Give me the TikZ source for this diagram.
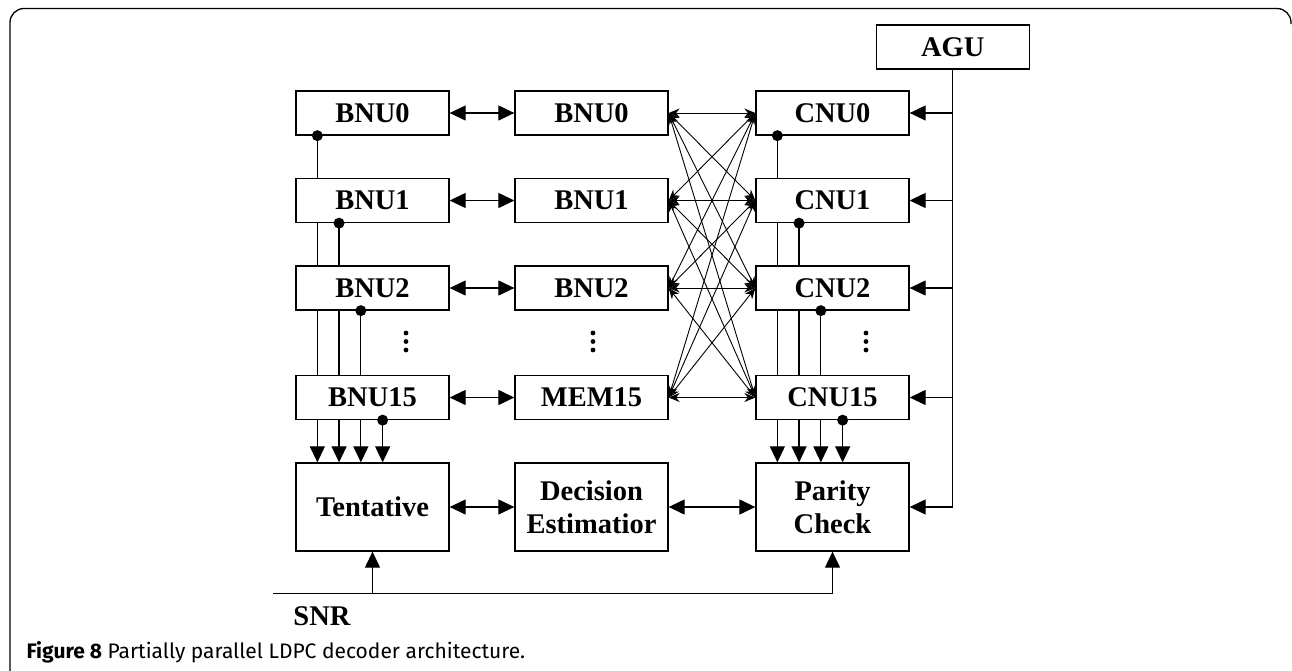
\documentclass[tikz,border=0pt]{standalone}
\usepackage{fontspec}
\setmainfont{Liberation Serif}
\newfontfamily\capfont{Fira Sans}
\usetikzlibrary{arrows.meta}
\begin{document}
\begin{tikzpicture}[x=1pt,y=-1pt,
  line width=1.2pt,
  box/.style={draw, line width=1.3pt, minimum width=153pt, minimum height=44pt, inner sep=0pt, font=\fontsize{28.5}{30}\selectfont\bfseries},
  bigbox/.style={box, minimum height=88pt, align=center, font=\fontsize{28.5}{33}\selectfont\bfseries},
  tip/.style={-{Triangle[length=16pt,width=15pt]}},
  dtip/.style={{Triangle[length=16pt,width=15pt]}-{Triangle[length=16pt,width=15pt]}},
  xtip/.style={line width=0.9pt,{Stealth[length=11pt,width=9pt]}-{Stealth[length=11pt,width=9pt]}},
  dot/.style={fill=black}
]
\useasboundingbox (0,0) rectangle (1292,670);
% frame
\draw[line width=1.3pt, rounded corners=14pt] (10,672) -- (10,8.5) -- (1291,8.5) -- (1291,24);

% left column
\node[box] (b0)  at (372.5,113)   {BNU0};
\node[box] (b1)  at (372.5,200.5) {BNU1};
\node[box] (b2)  at (372.5,288)   {BNU2};
\node[box] (b15) at (372.5,397.5) {BNU15};
% middle column
\node[box] (m0)  at (591.5,113)   {BNU0};
\node[box] (m1)  at (591.5,200.5) {BNU1};
\node[box] (m2)  at (591.5,288)   {BNU2};
\node[box] (m15) at (591.5,397.5) {MEM15};
% right column
\node[box] (c0)  at (832.5,113)   {CNU0};
\node[box] (c1)  at (832.5,200.5) {CNU1};
\node[box] (c2)  at (832.5,288)   {CNU2};
\node[box] (c15) at (832.5,397.5) {CNU15};
\node[box] (agu) at (952.7,47)    {AGU};
% big boxes
\node[bigbox] (tent) at (372.5,507) {Tentative};
\node[bigbox] (dec)  at (591.5,507) {Decision\\Estimatior};
\node[bigbox] (par)  at (832.5,507) {Parity\\Check};

% horizontal double arrows
\foreach \r in {0,1,2,15}{
  \draw[dtip] (b\r.east) -- (m\r.west);
}
\draw[dtip] (tent.east) -- (dec.west);
\draw[dtip] (dec.east) -- (par.west);

% crossbar
\foreach \i in {0,1,2,15}{
  \foreach \j in {0,1,2,15}{
    \draw[xtip] (m\i.east) -- (c\j.west);
  }
}

% vertical buses (left and right)
\foreach \p in {b,c}{
  \fill[dot] ([xshift=22pt]\p0.south west) circle (5.5pt);
  \draw ([xshift=22pt]\p0.south west) -- ([xshift=22pt]\p1.north west);
  \draw ([xshift=22pt]\p1.south west) -- ([xshift=22pt]\p2.north west);
  \draw ([xshift=22pt]\p2.south west) -- ([xshift=22pt]\p15.north west);
  \fill[dot] ([xshift=43.7pt]\p1.south west) circle (5.5pt);
  \draw ([xshift=43.7pt]\p1.south west) -- ([xshift=43.7pt]\p2.north west);
  \draw ([xshift=43.7pt]\p2.south west) -- ([xshift=43.7pt]\p15.north west);
  \fill[dot] ([xshift=65.5pt]\p2.south west) circle (5.5pt);
  \draw ([xshift=65.5pt]\p2.south west) -- ([xshift=65.5pt]\p15.north west);
  \fill[dot] ([xshift=87.3pt]\p15.south west) circle (5.5pt);
}
\foreach \s in {22,43.7,65.5,87.3}{
  \draw[tip] ([xshift=\s pt]b15.south west) -- ([xshift=\s pt]tent.north west);
  \draw[tip] ([xshift=\s pt]c15.south west) -- ([xshift=\s pt]par.north west);
}

% vertical ellipses
\foreach \x in {406,593,866}{
  \foreach \y in {333,341.5,350}{
    \fill (\x,\y) circle (2.4pt);
  }
}

% AGU lines
\draw[tip] (agu.south) |- (par.east);
\foreach \r in {0,1,2,15}{
  \draw[tip] (agu.south |- c\r.east) -- (c\r.east);
}

% SNR
\coordinate (snrL) at (273,593.3);
\draw[tip] (snrL) -| (par.south);
\draw[tip] (tent.south |- snrL) -- (tent.south);
\node[font=\fontsize{28.5}{30}\selectfont\bfseries] (snr) at (322,616) {SNR};

% caption
\node[anchor=base west, inner sep=0pt, font=\capfont\fontsize{21}{24}\selectfont] (cap) at (26,658)
  {\textbf{Figure 8} Partially parallel LDPC decoder architecture.};
\end{tikzpicture}
\end{document}
